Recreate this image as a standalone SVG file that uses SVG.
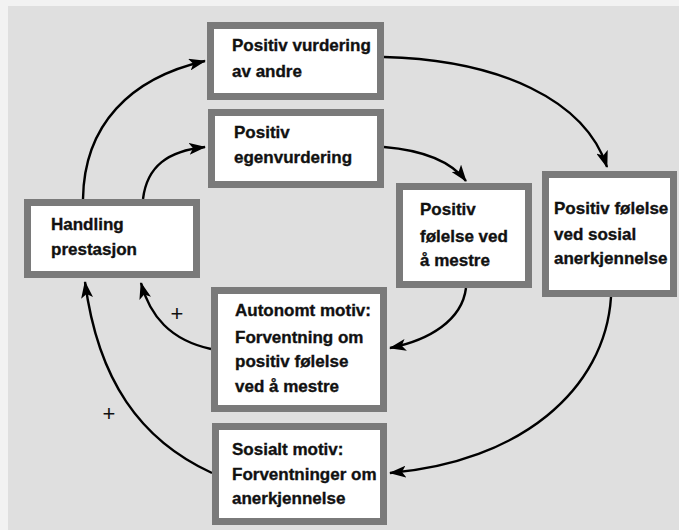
<svg xmlns="http://www.w3.org/2000/svg" width="679" height="530" viewBox="0 0 679 530">
<style>
.box{fill:#ffffff;stroke:#7a7a7a;stroke-width:7}
.t{font-family:"Liberation Sans",Arial,sans-serif;font-weight:bold;font-size:17px;fill:#111;stroke:#111;stroke-width:0.35}
.c{fill:none;stroke:#000;stroke-width:2.4}
.p{font-family:"Liberation Sans",Arial,sans-serif;font-size:22px;fill:#111}
</style>
<defs>
<marker id="ah" viewBox="0 0 17 12" refX="16" refY="6" markerWidth="17" markerHeight="12" markerUnits="userSpaceOnUse" orient="auto">
<path d="M0,0 L17,6 L0,12 L4,6 z" fill="#000"/>
</marker>
</defs>
<rect x="0" y="0" width="679" height="530" fill="#f2f2f2"/>
<rect x="8" y="6" width="671" height="524" fill="#dfdfdf"/>
<g id="connectors">
<path class="c" d="M83,199 C84,125 130,78 205,61" marker-end="url(#ah)"/>
<path class="c" d="M143,199 C147,166 168,151 205,147" marker-end="url(#ah)"/>
<path class="c" d="M384,57 C500,60 585,100 607,167" marker-end="url(#ah)"/>
<path class="c" d="M384,147 C420,150 450,160 466,181" marker-end="url(#ah)"/>
<path class="c" d="M466,288 C462,320 430,340 390,348" marker-end="url(#ah)"/>
<path class="c" d="M611,297 C605,390 520,462 390,473" marker-end="url(#ah)"/>
<path class="c" d="M211,349 C170,340 150,316 141,283" marker-end="url(#ah)"/>
<path class="c" d="M212,473 C140,440 98,380 85,282" marker-end="url(#ah)"/>
<text class="p" x="177" y="321" text-anchor="middle">+</text>
<text class="p" x="109" y="421" text-anchor="middle">+</text>
</g>
<g id="n-vurdering-andre">
<rect class="box" x="210.5" y="25.5" width="170" height="71"/>
<text class="t" x="232" y="51">Positiv vurdering</text>
<text class="t" x="232" y="77">av andre</text>
</g>
<g id="n-egenvurdering">
<rect class="box" x="211.5" y="112.5" width="169" height="72"/>
<text class="t" x="234" y="138">Positiv</text>
<text class="t" x="234" y="163">egenvurdering</text>
</g>
<g id="n-handling">
<rect class="box" x="27.5" y="202.5" width="169" height="72"/>
<text class="t" x="51" y="230">Handling</text>
<text class="t" x="51" y="255">prestasjon</text>
</g>
<g id="n-mestre">
<rect class="box" x="399.5" y="186.5" width="129" height="98"/>
<text class="t" x="420" y="215">Positiv</text>
<text class="t" x="420" y="242">følelse ved</text>
<text class="t" x="420" y="266">å mestre</text>
</g>
<g id="n-sosial">
<rect class="box" x="545.5" y="174.5" width="128" height="119"/>
<text class="t" x="554" y="214">Positiv følelse</text>
<text class="t" x="554" y="240">ved sosial</text>
<text class="t" x="554" y="264">anerkjennelse</text>
</g>
<g id="n-autonomt">
<rect class="box" x="214.5" y="290.5" width="169" height="118"/>
<text class="t" x="235" y="316">Autonomt motiv:</text>
<text class="t" x="235" y="343">Forventning om</text>
<text class="t" x="235" y="367">positiv følelse</text>
<text class="t" x="235" y="392">ved å mestre</text>
</g>
<g id="n-sosialt">
<rect class="box" x="215.5" y="426.5" width="168" height="95"/>
<text class="t" x="232" y="455">Sosialt motiv:</text>
<text class="t" x="232" y="480">Forventninger om</text>
<text class="t" x="232" y="504">anerkjennelse</text>
</g>
</svg>
